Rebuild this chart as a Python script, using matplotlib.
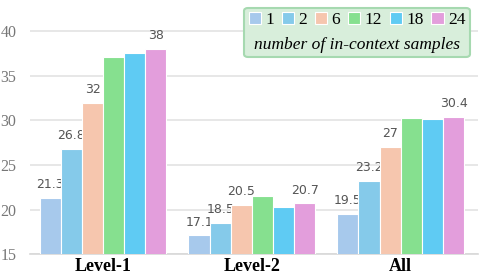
import numpy as np
import matplotlib.pyplot as plt

categories = ["Level-1", "Level-2", "All"]
samples = ["1", "2", "6", "12", "18", "24"]
values = {
    "1": [21.3, 17.1, 19.5],
    "2": [26.8, 18.5, 23.2],
    "6": [32.0, 20.5, 27.0],
    "12": [37.1, 21.5, 30.3],
    "18": [37.6, 20.3, 30.1],
    "24": [38.0, 20.7, 30.4],
}
labeled = ["1", "2", "6", "24"]
colors = ["#a7c9ec", "#85caea", "#f6c6ae", "#86e08f", "#5fcbf3", "#e39edc"]

fig = plt.figure(figsize=(4.79, 2.78), dpi=100)
ax = fig.add_axes([0.063, 0.086, 0.935, 0.914])

x = np.arange(len(categories))
w = 0.142
for i, s in enumerate(samples):
    pos = x + (i - 2.5) * w
    bars = ax.bar(pos, values[s], w, bottom=0, color=colors[i],
                  edgecolor="white", linewidth=0.8, label=s, zorder=3)
    if s in labeled:
        for b, v in zip(bars, values[s]):
            ax.text(b.get_x() + b.get_width() / 2, v + 0.75, f"{v:g}",
                    ha="center", va="bottom", fontsize=9, color="#555555",
                    family="DejaVu Sans")

ax.set_ylim(15, 43.5)
ax.set_xlim(-0.49, 2.52)
ax.set_yticks([15, 20, 25, 30, 35, 40])
ax.set_xticks(x)
ax.set_xticklabels(categories, fontsize=13, fontweight="bold", family="Liberation Serif")
for t in ax.get_yticklabels():
    t.set_family("Liberation Serif")
    t.set_color("#777777")
    t.set_fontsize(11.5)
ax.tick_params(axis="both", length=0, pad=3)
ax.tick_params(axis="y", pad=10)
ax.grid(axis="y", color="#e3e3e3", linewidth=1.2, zorder=0)
for sp in ["top", "right", "left"]:
    ax.spines[sp].set_visible(False)
ax.spines["bottom"].set_color("#d8d8d8")
ax.spines["bottom"].set_linewidth(1.2)

leg = ax.legend(ncol=6, loc="upper right", bbox_to_anchor=(0.993, 0.99),
                title="number of in-context samples",
                prop={"family": "Liberation Serif", "size": 12.5},
                title_fontproperties={"family": "Liberation Serif", "size": 12.5, "style": "italic"},
                handlelength=0.7, handleheight=0.7, handletextpad=0.25,
                columnspacing=0.45, borderpad=0.25, borderaxespad=0.3,
                fancybox=True, framealpha=1)
# put the title under the entries
leg._legend_box._children.reverse()
leg.get_frame().set_facecolor("#d8eedb")
leg.get_frame().set_edgecolor("#a6d9b0")
leg.get_frame().set_linewidth(1.5)

fig.savefig("out.png", dpi=100)
